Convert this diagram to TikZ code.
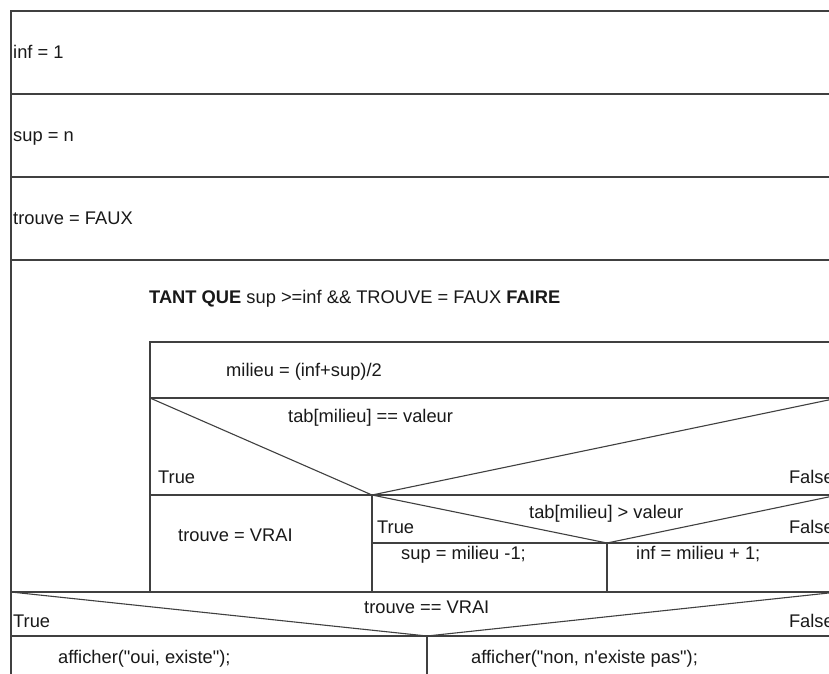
\documentclass[tikz,border=0pt]{standalone}
\usepackage{fontspec}
\setmainfont{Liberation Sans}
\begin{document}
\begin{tikzpicture}[x=1pt,y=-1pt,
  ln/.style={draw=black!75, line width=1.1pt},
  lbl/.style={anchor=base west, inner sep=0pt, text=black!90, font=\fontsize{18.3}{22}\selectfont},
  lblr/.style={anchor=base east, inner sep=0pt, text=black!90, font=\fontsize{18.3}{22}\selectfont}]
\useasboundingbox (0,0) rectangle (829,673);
\clip (0,0) rectangle (829,673);
\fill[white] (0,0) rectangle (829,673);
% coordinates
\coordinate (TL) at (11,11);
\coordinate (TR) at (838,11);
\coordinate (BL) at (11,690);
% outer frame and sequence rows
\draw[ln] (BL) -- (TL) -- (TR);
\draw[ln] (11,94) -- (838,94);
\draw[ln] (11,177) -- (838,177);
\draw[ln] (11,260) -- (838,260);
% inner loop box
\coordinate (IL) at (150,342);
\draw[ln] (150,592) -- (IL) -- (838,342);
\draw[ln] (150,398) -- (838,398);
% first decision
\coordinate (D1) at (372,495);
\draw[ln] (150,398) -- (D1) -- (838,398);
\draw[ln] (150,495) -- (838,495);
\draw[ln] (D1) -- (372,592);
% second decision
\coordinate (D2) at (607,543);
\draw[ln] (D1) -- (D2) -- (838,495);
\draw[ln] (372,543) -- (838,543);
\draw[ln] (D2) -- (607,592);
% final decision
\coordinate (D3) at (427,636);
\draw[ln] (11,592) -- (838,592);
\draw[ln] (11,592) -- (D3) -- (838,592);
\draw[ln] (11,636) -- (838,636);
\draw[ln] (D3) -- (427,690);
% texts
\node[lbl] (t1) at (13,58) {inf = 1};
\node[lbl] (t2) at (13,141) {sup = n};
\node[lbl] (t3) at (13,224) {trouve = FAUX};
\node[lbl] (t4) at (149,303) {\textbf{TANT QUE} sup >=inf \&\& TROUVE = FAUX \textbf{FAIRE}};
\node[lbl] (t5) at (226,376) {milieu = (inf+sup)/2};
\node[lbl] (t6) at (288,422) {tab[milieu] == valeur};
\node[lbl] (t7) at (158,483) {True};
\node[lblr] (t8) at (834,483) {False};
\node[lbl] (t9) at (178,541) {trouve = VRAI};
\node[lbl] (t10) at (377,533) {True};
\node[lbl] (t11) at (529,518) {tab[milieu] > valeur};
\node[lblr] (t12) at (834,533) {False};
\node[lbl] (t13) at (401,559) {sup = milieu -1;};
\node[lbl] (t14) at (636,559) {inf = milieu + 1;};
\node[lbl] (t15) at (364,613) {trouve == VRAI};
\node[lbl] (t16) at (13,627) {True};
\node[lblr] (t17) at (834,627) {False};
\node[lbl] (t18) at (58,663) {afficher(\textquotedbl oui, existe\textquotedbl);};
\node[lbl] (t19) at (471,663) {afficher(\textquotedbl non, n\textquotesingle existe pas\textquotedbl);};
\end{tikzpicture}
\end{document}
